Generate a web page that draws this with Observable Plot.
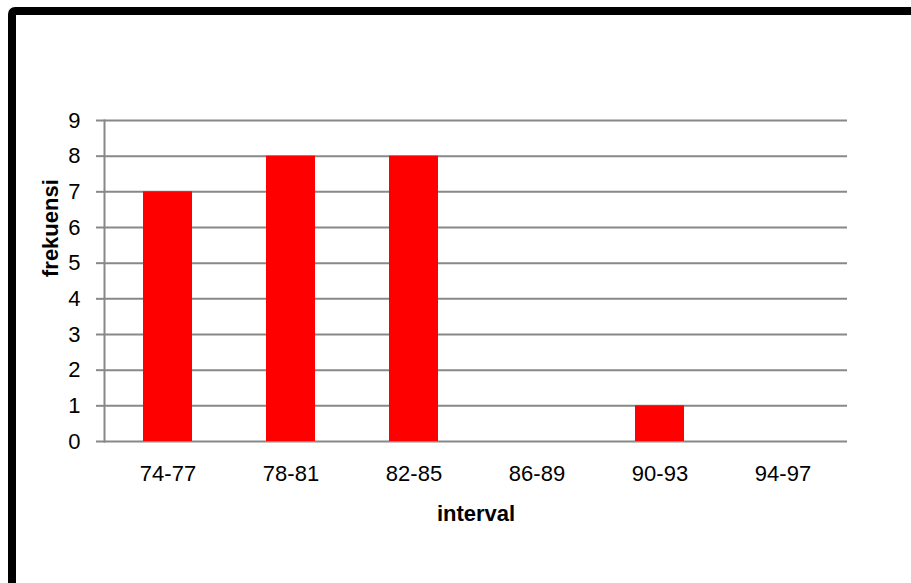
<!DOCTYPE html>
<html>
<head>
<meta charset="utf-8">
<script src="https://cdn.jsdelivr.net/npm/d3@7"></script>
<script src="https://cdn.jsdelivr.net/npm/@observablehq/plot@0.6"></script>
<style>
  html, body { margin: 0; padding: 0; background: #fff; overflow: hidden; width: 911px; height: 583px; }
  #wrap { position: relative; width: 911px; height: 583px; }
  #border { position: absolute; left: 8px; top: 7px; width: 1000px; height: 1000px; border: 8px solid #000; border-radius: 7px; box-sizing: border-box; pointer-events: none; }
  #chart { position: absolute; left: 0; top: 0; }
</style>
</head>
<body>
<div id="wrap">
  <div id="chart"></div>
  <div id="border"></div>
</div>
<script>
const categories = ["74-77", "78-81", "82-85", "86-89", "90-93", "94-97"];
const frequencies = [7, 8, 8, 0, 1, 0];
const yTicks = [0, 1, 2, 3, 4, 5, 6, 7, 8, 9];
const xTitle = "interval";
const yTitle = "frekuensi";

const data = categories.map((c, i) => ({interval: c, frekuensi: frequencies[i]}));

const chart = Plot.plot({
  width: 911,
  height: 583,
  marginLeft: 104,
  marginRight: 64,
  marginTop: 120,
  marginBottom: 142,
  style: {fontFamily: "'Liberation Sans', Arial, sans-serif", fontSize: "22px", color: "#000", background: "transparent"},
  x: {domain: categories, paddingInner: 0.6, paddingOuter: 0.3, label: null},
  y: {domain: [0, 9], label: null},
  marks: [
    Plot.ruleY(yTicks, {stroke: "#888", strokeWidth: 2}),
    Plot.frame({anchor: "left", stroke: "#888", strokeWidth: 2}),
    Plot.barY(data, {x: "interval", y: "frekuensi", fill: "#ff0000"}),
    Plot.axisY({ticks: yTicks, tickSize: 8, tickPadding: 16, stroke: "#888", strokeWidth: 2, strokeOpacity: 1, fill: "#000", fontSize: 22, label: null, tickFormat: d => String(d)}),
    Plot.axisX({tickSize: 0, tickPadding: 24, fill: "#000", fontSize: 22, label: null}),
    Plot.text([yTitle], {frameAnchor: "left", lineAnchor: "middle", dx: -54, dy: -4, rotate: -90, fontWeight: "bold", fontSize: 22, text: d => d}),
    Plot.text([xTitle], {frameAnchor: "bottom", lineAnchor: "middle", dy: 72, fontWeight: "bold", fontSize: 22, text: d => d})
  ]
});
document.getElementById("chart").appendChild(chart);
</script>
</body>
</html>
